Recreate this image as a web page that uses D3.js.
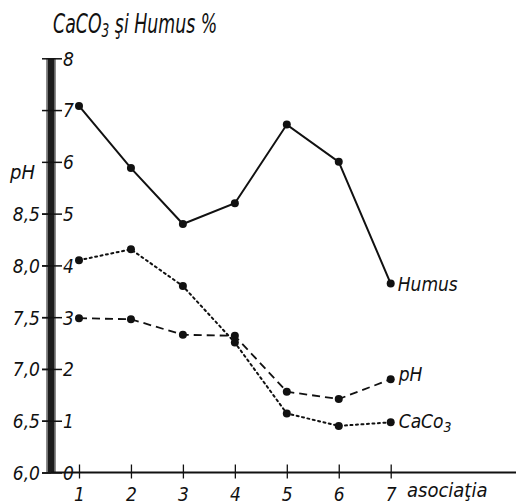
<!DOCTYPE html>
<html><head><meta charset="utf-8">
<script src="https://cdn.jsdelivr.net/npm/d3@7"></script>
<style>
html,body{margin:0;padding:0;background:#fff;}
text{font-family:"Liberation Sans Narrow","DejaVu Sans Condensed","Liberation Sans",sans-serif;font-style:italic;fill:#111;}
</style></head>
<body>
<svg id="c" width="516" height="504"></svg>
<script>
const categories = [1, 2, 3, 4, 5, 6, 7];
const humus = [7.08, 5.88, 4.80, 5.20, 6.72, 6.00, 3.65];
const caco3 = [4.10, 4.31, 3.60, 2.51, 1.14, 0.90, 0.97];
const ph    = [7.49, 7.48, 7.33, 7.32, 6.78, 6.71, 6.90];
const rightTicks = [0, 1, 2, 3, 4, 5, 6, 7, 8];
const phTicks = [6.0, 6.5, 7.0, 7.5, 8.0, 8.5];
const phTickLabels = ["6,0", "6,5", "7,0", "7,5", "8,0", "8,5"];

const svg = d3.select("#c");
const x = d3.scaleLinear().domain([1, 7]).range([79, 390.7]);
const y = d3.scaleLinear().domain([0, 8]).range([472.5, 58.3]);
const yPH = d3.scaleLinear().domain([6, 10]).range([472.5, 58.3]);
const axisX = 51;

// thick vertical bar
svg.append("rect").attr("x", axisX - 4.5).attr("y", y(8)).attr("width", 9)
  .attr("height", y(0) - y(8)).attr("fill", "#1c1c1c");
svg.append("line").attr("x1", axisX - 3.5).attr("x2", axisX - 3.5).attr("y1", y(8)).attr("y2", y(0))
  .attr("stroke", "#777").attr("stroke-width", 1);
svg.append("line").attr("x1", axisX + 3.5).attr("x2", axisX + 3.5).attr("y1", y(8)).attr("y2", y(0))
  .attr("stroke", "#666").attr("stroke-width", 1);

// right axis (CaCO3 / Humus)
const ra = svg.append("g").attr("transform", `translate(${axisX},0)`)
  .call(d3.axisRight(y).tickValues(rightTicks).tickSize(11).tickPadding(1).tickFormat(d3.format("d")));
ra.select(".domain").remove();
ra.selectAll("line").attr("x1", -9).attr("x2", 11).attr("stroke", "#111").attr("stroke-width", 1.5);
ra.selectAll("text").style("font-size", "19px").attr("dy", "0.36em");

// left axis (pH)
const la = svg.append("g").attr("transform", `translate(${axisX},0)`)
  .call(d3.axisLeft(yPH).tickValues(phTicks).tickSize(9).tickPadding(2)
    .tickFormat((d, i) => phTickLabels[i]));
la.select(".domain").remove();
la.selectAll("line").attr("stroke", "#111").attr("stroke-width", 1.5);
la.selectAll("text").style("font-size", "19px").attr("dy", "0.36em");
svg.append("text").attr("x", 10).attr("y", yPH(9) + 17).style("font-size", "20px").text("pH");

// x axis
svg.append("line").attr("x1", axisX).attr("x2", 516).attr("y1", y(0)).attr("y2", y(0))
  .attr("stroke", "#111").attr("stroke-width", 2);
const xa = svg.append("g").attr("transform", `translate(0,${y(0)})`)
  .call(d3.axisBottom(x).tickValues(categories).tickSize(6).tickPadding(6).tickFormat(d3.format("d")));
xa.select(".domain").remove();
xa.selectAll("line").attr("y1", -8).attr("y2", 6).attr("stroke", "#111").attr("stroke-width", 1.3);
xa.selectAll("text").style("font-size", "19px").attr("dy", "0.85em");
svg.append("text").attr("x", 407).attr("y", 497).style("font-size", "20px").text("asociaţia");

// title
const t = svg.append("text").attr("transform", "translate(53,33) scale(0.715,1)").style("font-size", "27px");
t.append("tspan").text("CaCO");
t.append("tspan").attr("dy", 4).style("font-size", "19px").text("3");
t.append("tspan").attr("dy", -4).text(" şi Humus %");

// series
const series = [
  {name: "humus", vals: humus, sc: y, dash: null, w: 2},
  {name: "caco3", vals: caco3, sc: y, dash: "2,3.5", w: 2},
  {name: "ph", vals: ph, sc: yPH, dash: "8,5", w: 1.8}
];
series.forEach(s => {
  const line = d3.line().x((d, i) => x(categories[i])).y(d => s.sc(d));
  svg.append("path").datum(s.vals).attr("d", line).attr("fill", "none")
    .attr("stroke", "#111").attr("stroke-width", s.w)
    .attr("stroke-dasharray", s.dash).attr("stroke-linecap", s.dash && s.dash.startsWith("2") ? "round" : "butt");
  svg.selectAll(null).data(s.vals).enter().append("circle")
    .attr("cx", (d, i) => x(categories[i])).attr("cy", d => s.sc(d)).attr("r", 4).attr("fill", "#111");
});

// series labels
const last = categories.length - 1;
svg.append("text").attr("x", x(categories[last]) + 7).attr("y", y(humus[last]) + 7)
  .style("font-size", "19px").text("Humus");
svg.append("text").attr("x", x(categories[last]) + 8).attr("y", yPH(ph[last]) + 2)
  .style("font-size", "19px").text("pH");
const cl = svg.append("text").attr("x", x(categories[last]) + 8).attr("y", y(caco3[last]) + 6)
  .style("font-size", "19px");
cl.append("tspan").text("CaCo");
cl.append("tspan").attr("dy", 4).style("font-size", "14px").text("3");
</script>
</body></html>
